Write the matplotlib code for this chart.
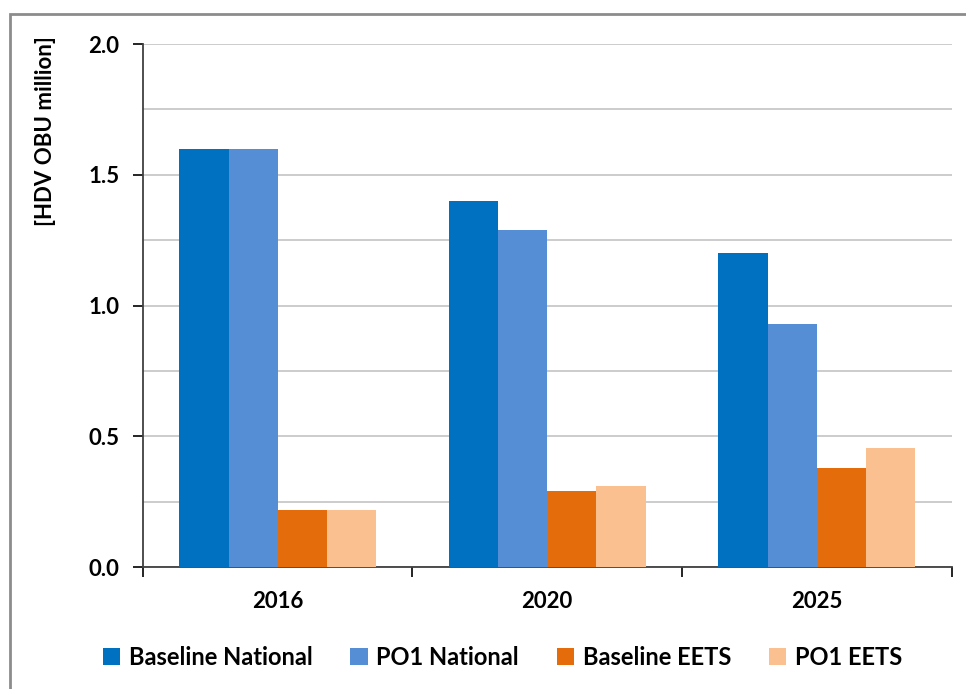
# bar chart: HDV OBU (million) por ano e cenário
import numpy as np
import matplotlib.pyplot as plt
from matplotlib.patches import Rectangle
from matplotlib.ticker import MultipleLocator

plt.rcParams['font.family'] = ['Lato', 'DejaVu Sans']
plt.rcParams['font.weight'] = 'bold'

anos = ["2016", "2020", "2025"]
series = ["Baseline National", "PO1 National", "Baseline EETS", "PO1 EETS"]
baseline_national = [1.60, 1.40, 1.20]
po1_national = [1.60, 1.29, 0.93]
baseline_eets = [0.22, 0.29, 0.38]
po1_eets = [0.22, 0.31, 0.455]
cores = ["#0070C0", "#558ED5", "#E46C0A", "#FAC090"]

valores = [baseline_national, po1_national, baseline_eets, po1_eets]

fig = plt.figure(figsize=(9.66, 6.89), dpi=100)
ax = fig.add_axes([0.148, 0.177, 0.837, 0.759])

x = np.arange(len(anos))
larg = 0.73 / 4
for i, (nome, v, c) in enumerate(zip(series, valores, cores)):
    ax.bar(x + (i - 1.5) * larg, v, larg, color=c, label=nome, zorder=3)

ax.set_xlim(-0.5, 2.5)
ax.set_ylim(0, 2.0)
ax.yaxis.set_minor_locator(MultipleLocator(0.25))
ax.set_yticks([0, 0.5, 1.0, 1.5, 2.0])
ax.set_yticklabels(["0.0", "0.5", "1.0", "1.5", "2.0"])
ax.grid(axis='y', which='both', color='#C8C8C8', linewidth=1.3, zorder=0)
ax.tick_params(axis='y', which='minor', length=0)
ax.tick_params(axis='y', which='major', length=7, width=1.2, labelsize=16, pad=10)

# ticks do eixo x nas fronteiras das categorias
ax.set_xticks([-0.5, 0.5, 1.5, 2.5])
ax.set_xticklabels([])
ax.set_xticks(x, minor=True)
ax.set_xticklabels(anos, minor=True)
ax.tick_params(axis='x', which='major', length=7, width=1.2, direction='out')
ax.tick_params(axis='x', which='minor', length=0, labelsize=16, pad=17)

for s in ['top', 'right']:
    ax.spines[s].set_visible(False)
for s in ['left', 'bottom']:
    ax.spines[s].set_color('#404040')
    ax.spines[s].set_linewidth(1.3)

fig.text(0.047, 0.947, "[HDV OBU million]", rotation=90, ha='center', va='top',
         fontsize=16, fontweight='bold')

leg = fig.legend(loc='center', bbox_to_anchor=(0.52, 0.046), ncol=4, frameon=False,
                 fontsize=17, handlelength=0.75, handleheight=0.75, columnspacing=1.6,
                 handletextpad=0.35)

# moldura externa
fig.patches.append(Rectangle((10 / 966, -0.05), 1.1, 1 - 14 / 689 + 0.05,
                             transform=fig.transFigure, fill=False,
                             edgecolor='#8C8C8C', linewidth=2))

fig.savefig("out.png", dpi=100)
